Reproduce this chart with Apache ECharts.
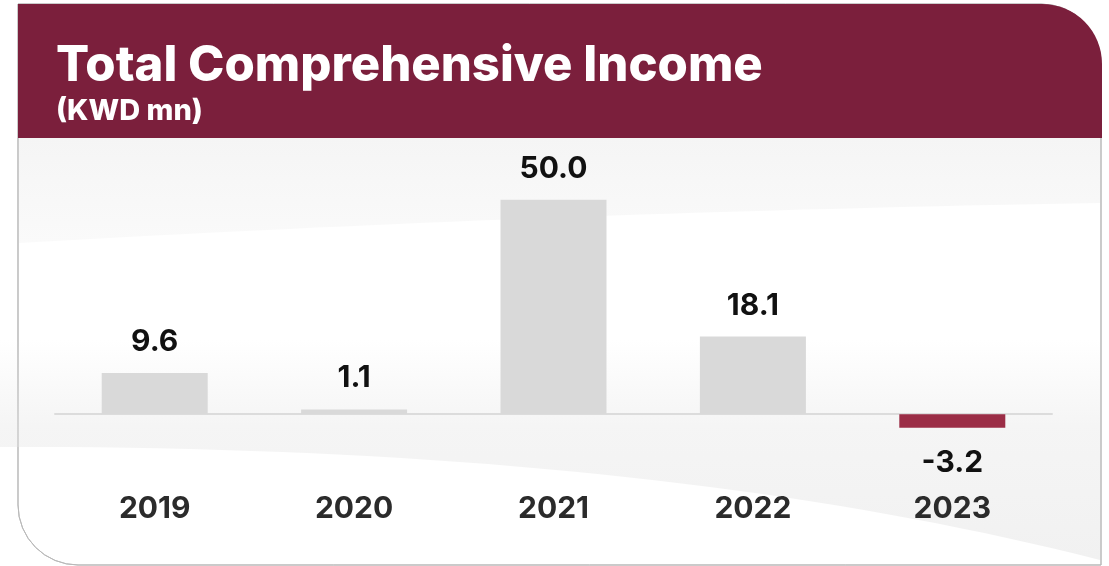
<!DOCTYPE html>
<html>
<head>
<meta charset="utf-8">
<title>Total Comprehensive Income</title>
<script src="https://cdn.jsdelivr.net/npm/echarts@6/dist/echarts.min.js"></script>
<style>
  html, body { margin: 0; padding: 0; background: #ffffff; }
  #chart { width: 1109px; height: 566px; }
</style>
</head>
<body>
<div id="chart"></div>
<script>
// Total comprehensive income by year, KWD millions
const years = ['2019', '2020', '2021', '2022', '2023'];
const income = [9.6, 1.1, 50.0, 18.1, -3.2];

const titleText = 'Total Comprehensive Income';
const unitText = '(KWD mn)';

const MAROON = '#7b1f3c';
const NEG_RED = '#9b2d46';
const BAR_GREY = '#d9d9d9';
const FONT = 'Inter, "Open Sans", sans-serif';

// sample a quadratic curve so a decorative swoosh edge can be drawn as a polygon
function quadCurve(p0, c, p1, steps) {
  const pts = [];
  for (let i = 0; i <= steps; i++) {
    const t = i / steps, u = 1 - t;
    pts.push([
      u * u * p0[0] + 2 * u * t * c[0] + t * t * p1[0],
      u * u * p0[1] + 2 * u * t * c[1] + t * t * p1[1]
    ]);
  }
  return pts;
}

const upperBand = [[19, 138], [1100, 138]].concat(quadCurve([1100, 203], [560, 212], [19, 243], 40));
const lowerBand = [[0, 340], [1100, 340]].concat(quadCurve([1100, 560], [650, 445], [0, 447], 40));

const chart = echarts.init(document.getElementById('chart'), null, { renderer: 'canvas' });

const barData = income.map(v => ({
  value: v,
  itemStyle: { color: v < 0 ? NEG_RED : BAR_GREY },
  label: v < 0 ? { position: 'bottom', distance: 20 } : { position: 'top', distance: 16 }
}));

chart.setOption({
  animation: false,
  backgroundColor: '#ffffff',
  graphic: [
    // card body
    {
      type: 'rect', z: -20, silent: true,
      shape: { x: 18, y: 4, width: 1083, height: 561, r: [0, 60, 0, 60] },
      style: { fill: '#ffffff', stroke: '#b9b9b9', lineWidth: 1 }
    },
    // soft grey band under the header
    {
      type: 'polygon', z: -15, silent: true,
      shape: { points: upperBand },
      style: {
        fill: new echarts.graphic.LinearGradient(0, 0, 0, 1, [
          { offset: 0, color: '#f5f5f5' },
          { offset: 1, color: '#fafafa' }
        ])
      }
    },
    // lower grey swoosh behind the baseline
    {
      type: 'polygon', z: -15, silent: true,
      shape: { points: lowerBand },
      style: {
        fill: new echarts.graphic.LinearGradient(0, 0, 0, 1, [
          { offset: 0, color: 'rgba(243,243,243,0)' },
          { offset: 0.4, color: 'rgba(243,243,243,0.85)' },
          { offset: 1, color: '#f1f1f1' }
        ])
      }
    },
    // card outline drawn over the swooshes
    {
      type: 'rect', z: -10, silent: true,
      shape: { x: 18, y: 4, width: 1083, height: 561, r: [0, 60, 0, 60] },
      style: { fill: 'none', stroke: '#b9b9b9', lineWidth: 1 }
    },
    // header band
    {
      type: 'rect', z: -5, silent: true,
      shape: { x: 18, y: 4, width: 1084, height: 134, r: [0, 60, 0, 0] },
      style: { fill: MAROON }
    },
    {
      type: 'text', z: 5, silent: true,
      left: 56, top: 42,
      style: { text: titleText, fill: '#ffffff', font: '800 49px ' + FONT }
    },
    {
      type: 'text', z: 5, silent: true,
      left: 56, top: 97,
      style: { text: unitText, fill: '#ffffff', font: '800 29px ' + FONT }
    }
  ],
  grid: { left: 55, right: 57, top: 157, height: 300, containLabel: false },
  xAxis: {
    type: 'category',
    data: years,
    axisLine: { show: true, onZero: true, lineStyle: { color: '#dcdcdc', width: 2 } },
    axisTick: { show: false },
    axisLabel: {
      margin: 37,
      fontFamily: FONT, fontSize: 30, fontWeight: 700, color: '#2b2b2b'
    },
    splitLine: { show: false }
  },
  yAxis: {
    type: 'value',
    min: -10, max: 60, interval: 10,
    show: false,
    splitLine: { show: false }
  },
  series: [{
    type: 'bar',
    data: barData,
    barWidth: 106,
    label: {
      show: true,
      formatter: p => p.value.toFixed(1),
      fontFamily: FONT, fontSize: 30, fontWeight: 700, color: '#111111'
    }
  }]
});
</script>
</body>
</html>
